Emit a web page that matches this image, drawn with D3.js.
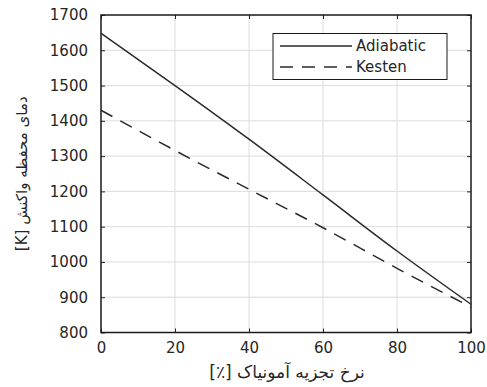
<!DOCTYPE html>
<html>
<head>
<meta charset="utf-8">
<script src="https://cdn.jsdelivr.net/npm/d3@7"></script>
<style>
  html, body { margin: 0; padding: 0; background: #fff; }
  svg { display: block; }
</style>
</head>
<body>
<svg id="chart" width="487" height="387"></svg>
<script>
// Ammonia decomposition rate (%) vs reactor temperature (K)
const decomposition = [0, 20, 40, 60, 80, 100];
const adiabatic = [1648, 1500, 1348, 1190, 1031, 880];
const kesten = [1430, 1316, 1206, 1097, 982, 872];
const xTicks = [0, 20, 40, 60, 80, 100];
const yTicks = [800, 900, 1000, 1100, 1200, 1300, 1400, 1500, 1600, 1700];
const seriesNames = ["Adiabatic", "Kesten"];
const xLabel = "نرخ تجزیه آمونیاک [٪]";
const yLabel = "دمای محفظه واکنش [K]";

const svg = d3.select("#chart");
const m = { left: 101, right: 471, top: 15, bottom: 332.5 };
const x = d3.scaleLinear().domain([0, 100]).range([m.left, m.right]);
const y = d3.scaleLinear().domain([800, 1700]).range([m.bottom, m.top]);

const textColor = "#262626";
const tickFont = "DejaVu Sans, sans-serif";

// grid
const g = svg.append("g");
g.selectAll(".gx").data(xTicks.slice(1, -1)).join("line")
  .attr("x1", d => x(d)).attr("x2", d => x(d))
  .attr("y1", m.top).attr("y2", m.bottom)
  .attr("stroke", "#dcdcdc").attr("stroke-width", 1);
g.selectAll(".gy").data(yTicks.slice(1, -1)).join("line")
  .attr("y1", d => y(d)).attr("y2", d => y(d))
  .attr("x1", m.left).attr("x2", m.right)
  .attr("stroke", "#dcdcdc").attr("stroke-width", 1);

// axes with inward ticks
const fmt = d3.format("d");
const axB = d3.axisBottom(x).tickValues(xTicks).tickSize(-4).tickPadding(10).tickFormat(fmt);
const axL = d3.axisLeft(y).tickValues(yTicks).tickSize(-4).tickPadding(13).tickFormat(fmt);
const axT = d3.axisTop(x).tickValues(xTicks).tickSize(-4).tickFormat("");
const axR = d3.axisRight(y).tickValues(yTicks).tickSize(-4).tickFormat("");

function styleAxis(sel) {
  sel.select(".domain").remove();
  sel.selectAll(".tick line").attr("stroke", "#222").attr("stroke-width", 1);
  sel.selectAll(".tick text").attr("fill", textColor)
    .style("font-family", tickFont).style("font-size", "15px");
}
svg.append("g").attr("transform", `translate(0,${m.bottom})`).call(axB).call(styleAxis);
svg.append("g").attr("transform", `translate(${m.left},0)`).call(axL).call(styleAxis);
svg.append("g").attr("transform", `translate(0,${m.top})`).call(axT).call(styleAxis);
svg.append("g").attr("transform", `translate(${m.right},0)`).call(axR).call(styleAxis);

// frame
svg.append("rect")
  .attr("x", m.left).attr("y", m.top)
  .attr("width", m.right - m.left).attr("height", m.bottom - m.top)
  .attr("fill", "none").attr("stroke", "#1a1a1a").attr("stroke-width", 1.5);

// series
const line = d3.line().curve(d3.curveMonotoneX)
  .x((d, i) => x(decomposition[i])).y(d => y(d));
svg.append("path").datum(adiabatic).attr("d", line)
  .attr("fill", "none").attr("stroke", "#2a2a2a").attr("stroke-width", 1.5);
svg.append("path").datum(kesten).attr("d", line)
  .attr("fill", "none").attr("stroke", "#2a2a2a").attr("stroke-width", 1.5)
  .attr("stroke-dasharray", "13,9");

// legend
const lg = svg.append("g");
lg.append("rect").attr("x", 273).attr("y", 33.5).attr("width", 174).attr("height", 46)
  .attr("fill", "#fff").attr("stroke", "#1a1a1a").attr("stroke-width", 1);
const dashes = [null, "13,9"];
seriesNames.forEach((name, i) => {
  const yy = 46 + i * 21;
  lg.append("line").attr("x1", 280).attr("x2", 352).attr("y1", yy).attr("y2", yy)
    .attr("stroke", "#2a2a2a").attr("stroke-width", 1.5)
    .attr("stroke-dasharray", dashes[i]);
  lg.append("text").attr("x", 356).attr("y", yy).attr("dy", "0.35em")
    .attr("fill", textColor).style("font-family", tickFont).style("font-size", "15px")
    .text(name);
});

// axis titles
svg.append("text")
  .attr("x", 287).attr("y", 378)
  .attr("text-anchor", "middle").attr("direction", "rtl")
  .attr("fill", textColor).style("font-family", "DejaVu Sans, sans-serif").style("font-size", "17px")
  .text(xLabel);
svg.append("text")
  .attr("transform", `translate(27,${(m.top + m.bottom) / 2}) rotate(-90)`)
  .attr("text-anchor", "middle").attr("direction", "rtl")
  .attr("fill", textColor).style("font-family", "DejaVu Sans, sans-serif").style("font-size", "15px")
  .text(yLabel);
</script>
</body>
</html>
